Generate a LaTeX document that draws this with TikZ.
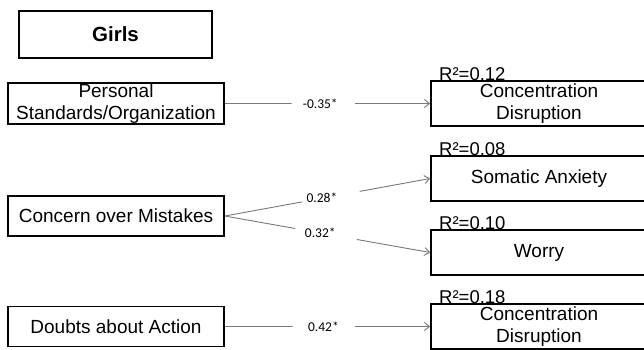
\documentclass[tikz,border=0pt]{standalone}
\usepackage{fontspec}
\setmainfont{Liberation Sans}
\newfontfamily\labfont{Carlito}
\usetikzlibrary{arrows.meta,calc}
\begin{document}
\begin{tikzpicture}[x=1pt,y=-1pt,
  box/.style={draw=black,line width=1.7pt,inner sep=0pt,minimum width=216pt,align=center,font=\fontsize{19}{22}\selectfont},
  rbox/.style={box,minimum height=45pt},
  rsq/.style={anchor=base west,inner sep=0pt,font=\fontsize{18.5}{22}\selectfont},
  conn/.style={draw=gray!95!black,line width=0.9pt},
  arr/.style={conn,-{Straight Barb[length=5pt,width=8pt,line width=0.9pt]}},
  lab/.style={inner sep=0pt,font=\labfont\fontsize{13.5}{15}\selectfont,text=black}]
\clip (0,0) rectangle (644,349);
\fill[white] (0,0) rectangle (644,349);
% title
\node[box,minimum width=193pt,minimum height=47pt,font=\fontsize{20.5}{24}\selectfont\bfseries] (girls) at (115.5,34.5) {Girls};
% left boxes
\node[box,minimum height=41pt] (pso) at (116,103.5) {Personal\\Standards/Organization};
\node[box,minimum height=40pt] (com) at (116,216) {Concern over Mistakes};
\node[box,minimum height=40pt] (dba) at (116,326.5) {Doubts about Action};
% right boxes
\node[rbox] (cd1) at (539,103.5) {Concentration\\Disruption};
\node[rbox] (sa) at (539,178.5) {Somatic Anxiety};
\node[rbox] (wo) at (539,252.5) {Worry};
\node[rbox] (cd2) at (539,326.5) {Concentration\\Disruption};
% R squared
\node[rsq] (r1) at (439,80) {R²=0.12};
\node[rsq] (r2) at (439,155) {R²=0.08};
\node[rsq] (r3) at (439,229) {R²=0.10};
\node[rsq] (r4) at (439,303) {R²=0.18};
% connectors
\node[lab] (l1) at ($(pso.east)!0.465!(cd1.west)$) {-0.35*};
\draw[conn] (pso.east) -- ($(pso.east)!0.325!(cd1.west)$);
\draw[arr] ($(pso.east)!0.635!(cd1.west)$) -- (cd1.west);
\node[lab] (l2) at ($(com.east)!0.473!(sa.west)+(0,-1)$) {0.28*};
\draw[conn] (com.east) -- ($(com.east)!0.377!(sa.west)$);
\draw[arr] ($(com.east)!0.657!(sa.west)$) -- (sa.west);
\node[lab] (l3) at ($(com.east)!0.465!(wo.west)$) {0.32*};
\draw[conn] (com.east) -- ($(com.east)!0.343!(wo.west)$);
\draw[arr] ($(com.east)!0.643!(wo.west)$) -- (wo.west);
\node[lab] (l4) at ($(dba.east)!0.48!(cd2.west)$) {0.42*};
\draw[conn] (dba.east) -- ($(dba.east)!0.33!(cd2.west)$);
\draw[arr] ($(dba.east)!0.635!(cd2.west)$) -- (cd2.west);
\end{tikzpicture}
\end{document}
